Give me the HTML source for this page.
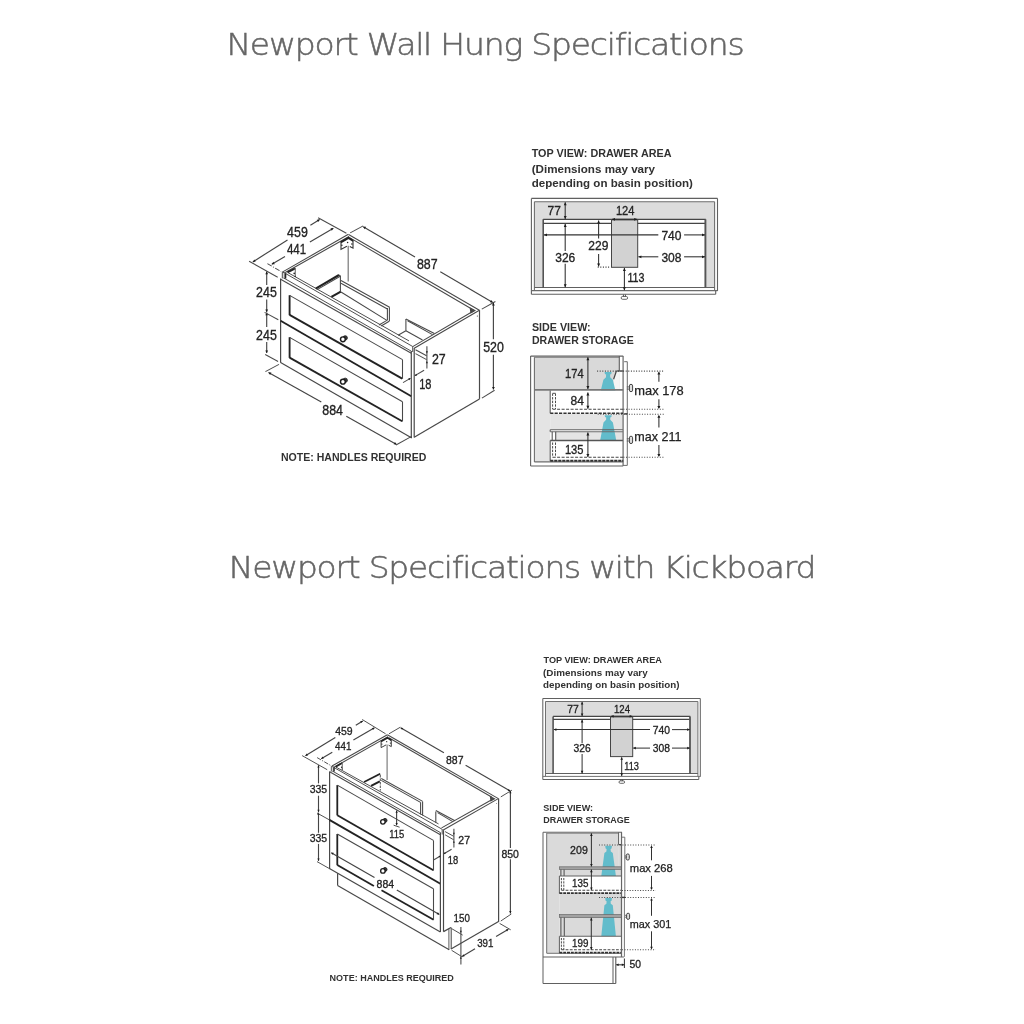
<!DOCTYPE html>
<html lang="en"><head><meta charset="utf-8"><title>Newport Specifications</title>
<style>
html,body{margin:0;padding:0;background:#fff;}
body{width:1024px;height:1024px;overflow:hidden;}
svg{display:block;font-family:"Liberation Sans","DejaVu Sans",sans-serif;}
svg line,svg polyline,svg polygon{stroke-linecap:butt;stroke-linejoin:miter;}
.h{font-family:"DejaVu Sans Light","DejaVu Sans","Liberation Sans",sans-serif;font-weight:200;font-size:29.8px;fill:#666;stroke:#666;stroke-width:0.5px;letter-spacing:-1.1px;}
</style></head><body>
<svg width="1024" height="1024" viewBox="0 0 1024 1024">
<defs><filter id="soft" x="0" y="0" width="1024" height="1024" filterUnits="userSpaceOnUse"><feGaussianBlur stdDeviation="0.42"/></filter></defs>
<rect x="0" y="0" width="1024" height="1024" fill="#ffffff"/>
<g filter="url(#soft)">
<text class="h" x="226.4" y="54.8" textLength="517" lengthAdjust="spacingAndGlyphs">Newport Wall Hung Specifications</text>
<text class="h" x="228.8" y="578.0" textLength="586.4" lengthAdjust="spacingAndGlyphs">Newport Specifications with Kickboard</text>
<line x1="280.6" y1="278.6" x2="280.6" y2="362.8" stroke="#484848" stroke-width="1.2" />
<line x1="280.6" y1="279.2" x2="411.3" y2="353.3" stroke="#484848" stroke-width="1.08" />
<line x1="282.7" y1="277.4" x2="411.3" y2="351.2" stroke="#484848" stroke-width="0.96" />
<line x1="285.7" y1="273.6" x2="412.7" y2="346.5" stroke="#484848" stroke-width="0.96" />
<line x1="287.9" y1="272.6" x2="409.0" y2="340.9" stroke="#484848" stroke-width="0.96" />
<line x1="280.6" y1="362.5" x2="411.8" y2="438.0" stroke="#484848" stroke-width="1.2" />
<line x1="280.6" y1="320.8" x2="411.3" y2="396.2" stroke="#222" stroke-width="1.86" />
<line x1="411.3" y1="351.0" x2="411.3" y2="438.0" stroke="#484848" stroke-width="1.2" />
<line x1="414.2" y1="348.0" x2="414.2" y2="437.4" stroke="#484848" stroke-width="1.2" />
<line x1="412.7" y1="346.4" x2="412.7" y2="352.0" stroke="#484848" stroke-width="0.96" />
<line x1="414.2" y1="348.3" x2="479.4" y2="310.2" stroke="#484848" stroke-width="1.08" />
<line x1="412.7" y1="346.6" x2="473.9" y2="310.8" stroke="#484848" stroke-width="1.08" />
<line x1="479.5" y1="310.2" x2="479.5" y2="398.9" stroke="#484848" stroke-width="1.2" />
<line x1="414.2" y1="437.3" x2="479.5" y2="398.9" stroke="#484848" stroke-width="1.2" />
<line x1="348.6" y1="234.5" x2="479.4" y2="310.2" stroke="#484848" stroke-width="1.08" />
<line x1="350.0" y1="237.9" x2="473.9" y2="310.2" stroke="#484848" stroke-width="1.08" />
<line x1="282.3" y1="272.1" x2="348.4" y2="234.3" stroke="#484848" stroke-width="1.08" />
<line x1="284.8" y1="272.8" x2="349.0" y2="236.5" stroke="#484848" stroke-width="1.08" />
<rect x="282.3" y="272.6" width="3.1" height="5.0" fill="#d8d8d8" stroke="none" stroke-width="0" />
<polyline points="282.3,278.4 282.3,272.3 285.4,272.9" stroke="#484848" stroke-width="0.96" fill="none" />
<line x1="285.4" y1="273.2" x2="285.4" y2="278.6" stroke="#222" stroke-width="1.8" />
<line x1="348.2" y1="245.8" x2="348.2" y2="281.6" stroke="#777" stroke-width="1.2" />
<polyline points="340.7,242.3 348.6,237.8 353.3,241.0" fill="none" stroke="#222" stroke-width="2.10" stroke-linejoin="miter"/>
<polyline points="341.0,242.1 341.0,249.4 346.9,246.2" fill="none" stroke="#333" stroke-width="1.10"/>
<polyline points="353.0,241.0 353.0,248.2 349.8,246.5" fill="none" stroke="#333" stroke-width="1.10"/>
<circle cx="347.6" cy="242.4" r="0.75" fill="#222"/>
<circle cx="351.9" cy="244.1" r="0.75" fill="#222"/>
<circle cx="341.9" cy="245.3" r="0.75" fill="#222"/>
<line x1="287.4" y1="272.3" x2="295.3" y2="268.3" stroke="#222" stroke-width="1.92" />
<line x1="295.3" y1="268.0" x2="295.3" y2="276.6" stroke="#777" stroke-width="1.2" />
<circle cx="294.2" cy="273.4" r="0.8" fill="#222"/>
<circle cx="295.2" cy="276.4" r="0.7" fill="#222"/>
<polygon points="470.5,308.5 471.0,312.5 474.5,310.5" stroke="#484848" stroke-width="1.44" fill="#444" />
<circle cx="477.3" cy="316.0" r="0.5" fill="#222"/>
<line x1="289.6" y1="315.2" x2="289.6" y2="295.2" stroke="#222" stroke-width="1.86" />
<line x1="289.6" y1="295.4" x2="402.5" y2="359.6" stroke="#484848" stroke-width="1.08" />
<line x1="289.6" y1="314.9" x2="402.2" y2="378.6" stroke="#222" stroke-width="1.86" />
<line x1="402.5" y1="359.6" x2="402.5" y2="378.8" stroke="#484848" stroke-width="1.08" />
<line x1="289.6" y1="357.9" x2="289.6" y2="337.2" stroke="#222" stroke-width="1.86" />
<line x1="289.6" y1="337.4" x2="402.5" y2="401.8" stroke="#484848" stroke-width="1.08" />
<line x1="289.6" y1="357.6" x2="402.2" y2="421.3" stroke="#222" stroke-width="1.86" />
<line x1="402.5" y1="401.8" x2="402.5" y2="421.5" stroke="#484848" stroke-width="1.08" />
<circle cx="345.2" cy="337.9" r="2.16" fill="#3a3a3a" stroke="#222" stroke-width="0.9"/>
<circle cx="342.9" cy="339.3" r="2.40" fill="#fff" stroke="#1c1c1c" stroke-width="1.44"/>
<circle cx="345.2" cy="380.3" r="2.16" fill="#3a3a3a" stroke="#222" stroke-width="0.9"/>
<circle cx="342.9" cy="381.7" r="2.40" fill="#fff" stroke="#1c1c1c" stroke-width="1.44"/>
<line x1="315.7" y1="288.7" x2="339.0" y2="275.0" stroke="#222" stroke-width="2.04" />
<line x1="317.2" y1="289.6" x2="340.2" y2="276.2" stroke="#484848" stroke-width="1.08" />
<line x1="340.4" y1="276.0" x2="340.4" y2="291.6" stroke="#484848" stroke-width="1.08" />
<line x1="339.0" y1="275.0" x2="340.6" y2="276.2" stroke="#484848" stroke-width="1.08" />
<line x1="331.4" y1="296.9" x2="340.8" y2="291.6" stroke="#222" stroke-width="2.16" />
<line x1="341.0" y1="280.5" x2="389.6" y2="307.2" stroke="#484848" stroke-width="1.08" />
<line x1="341.0" y1="283.3" x2="387.4" y2="309.0" stroke="#484848" stroke-width="1.08" />
<line x1="387.4" y1="308.0" x2="387.4" y2="320.6" stroke="#484848" stroke-width="1.08" />
<line x1="389.4" y1="307.2" x2="389.4" y2="321.2" stroke="#484848" stroke-width="1.08" />
<line x1="341.0" y1="292.0" x2="386.9" y2="320.4" stroke="#484848" stroke-width="1.08" />
<line x1="386.9" y1="320.4" x2="379.0" y2="325.0" stroke="#484848" stroke-width="1.08" />
<line x1="389.2" y1="321.3" x2="381.2" y2="326.0" stroke="#484848" stroke-width="1.08" />
<line x1="405.9" y1="319.0" x2="405.9" y2="330.8" stroke="#484848" stroke-width="1.08" />
<line x1="405.9" y1="319.0" x2="434.4" y2="333.6" stroke="#484848" stroke-width="1.08" />
<line x1="407.6" y1="320.8" x2="432.5" y2="334.6" stroke="#484848" stroke-width="1.08" />
<line x1="405.9" y1="330.8" x2="422.5" y2="340.0" stroke="#484848" stroke-width="1.08" />
<line x1="398.1" y1="335.2" x2="405.9" y2="330.8" stroke="#484848" stroke-width="1.08" />
<line x1="252.8" y1="261.9" x2="287.5" y2="239.9" stroke="#444" stroke-width="1.14" />
<line x1="310.4" y1="225.3" x2="319.7" y2="219.4" stroke="#444" stroke-width="1.14" />
<polygon points="252.8,261.9 254.3,259.4 255.7,261.6" fill="#1c1c1c"/>
<polygon points="319.7,219.4 318.2,221.9 316.8,219.7" fill="#1c1c1c"/>
<line x1="249.1" y1="261.2" x2="277.7" y2="277.3" stroke="#4a4a4a" stroke-width="1.02" />
<line x1="318.1" y1="217.8" x2="346.4" y2="233.3" stroke="#4a4a4a" stroke-width="1.02" />
<text x="287.1" y="236.7" font-size="13.9" fill="#222" stroke="#222" stroke-width="0.32" textLength="20.7" lengthAdjust="spacingAndGlyphs">459</text>
<line x1="271.8" y1="264.3" x2="285.0" y2="256.6" stroke="#444" stroke-width="1.14" />
<line x1="309.9" y1="242.0" x2="333.4" y2="228.2" stroke="#444" stroke-width="1.14" />
<polygon points="271.8,264.3 273.4,261.8 274.7,264.2" fill="#1c1c1c"/>
<polygon points="333.4,228.2 331.8,230.7 330.5,228.3" fill="#1c1c1c"/>
<line x1="267.4" y1="263.6" x2="281.1" y2="271.6" stroke="#4a4a4a" stroke-width="1.02" stroke-dasharray="5 1.5 1 1.5"/>
<text x="286.9" y="254.2" font-size="13.9" fill="#222" stroke="#222" stroke-width="0.32" textLength="19.2" lengthAdjust="spacingAndGlyphs">441</text>
<line x1="266.7" y1="271.6" x2="266.7" y2="285.0" stroke="#444" stroke-width="1.14" />
<line x1="266.7" y1="299.5" x2="266.7" y2="312.0" stroke="#444" stroke-width="1.14" />
<polygon points="266.7,271.6 268.1,274.2 265.3,274.2" fill="#1c1c1c"/>
<polygon points="266.7,312.0 265.3,309.4 268.1,309.4" fill="#1c1c1c"/>
<line x1="266.7" y1="312.6" x2="266.7" y2="327.0" stroke="#444" stroke-width="1.14" />
<line x1="266.7" y1="342.0" x2="266.7" y2="353.0" stroke="#444" stroke-width="1.14" />
<polygon points="266.7,312.6 268.1,315.2 265.3,315.2" fill="#1c1c1c"/>
<polygon points="266.7,353.0 265.3,350.4 268.1,350.4" fill="#1c1c1c"/>
<line x1="264.6" y1="312.4" x2="278.3" y2="319.8" stroke="#4a4a4a" stroke-width="1.02" />
<line x1="265.2" y1="354.5" x2="278.1" y2="361.5" stroke="#4a4a4a" stroke-width="1.02" />
<text x="256.1" y="297.0" font-size="13.9" fill="#222" stroke="#222" stroke-width="0.32" textLength="20.7" lengthAdjust="spacingAndGlyphs">245</text>
<text x="256.1" y="339.6" font-size="13.9" fill="#222" stroke="#222" stroke-width="0.32" textLength="20.7" lengthAdjust="spacingAndGlyphs">245</text>
<line x1="363.2" y1="226.7" x2="415.0" y2="257.0" stroke="#444" stroke-width="1.14" />
<line x1="440.3" y1="271.7" x2="492.8" y2="302.4" stroke="#444" stroke-width="1.14" />
<polygon points="363.2,226.7 366.1,226.8 364.8,229.2" fill="#1c1c1c"/>
<polygon points="492.8,302.4 489.9,302.3 491.2,299.9" fill="#1c1c1c"/>
<line x1="350.2" y1="232.9" x2="363.2" y2="225.9" stroke="#4a4a4a" stroke-width="1.02" />
<line x1="481.8" y1="309.1" x2="495.4" y2="301.5" stroke="#4a4a4a" stroke-width="1.02" />
<text x="416.9" y="269.2" font-size="13.9" fill="#222" stroke="#222" stroke-width="0.32" textLength="20.7" lengthAdjust="spacingAndGlyphs">887</text>
<line x1="493.4" y1="302.8" x2="493.4" y2="339.2" stroke="#444" stroke-width="1.14" />
<line x1="493.4" y1="354.8" x2="493.4" y2="389.5" stroke="#444" stroke-width="1.14" />
<polygon points="493.4,302.8 494.8,305.4 492.0,305.4" fill="#1c1c1c"/>
<polygon points="493.4,389.5 492.0,386.9 494.8,386.9" fill="#1c1c1c"/>
<line x1="481.9" y1="398.1" x2="494.6" y2="390.2" stroke="#4a4a4a" stroke-width="1.02" />
<text x="483.2" y="351.9" font-size="13.9" fill="#222" stroke="#222" stroke-width="0.32" textLength="20.7" lengthAdjust="spacingAndGlyphs">520</text>
<line x1="426.9" y1="346.3" x2="426.9" y2="368.4" stroke="#4a4a4a" stroke-width="1.08" />
<polygon points="426.9,353.6 425.9,351.2 427.9,351.2" fill="#1c1c1c"/>
<polygon points="426.9,360.9 427.9,363.3 425.9,363.3" fill="#1c1c1c"/>
<line x1="415.5" y1="349.7" x2="426.6" y2="355.8" stroke="#4a4a4a" stroke-width="1.02" />
<line x1="415.5" y1="353.6" x2="426.6" y2="359.6" stroke="#4a4a4a" stroke-width="1.02" />
<text x="431.9" y="363.6" font-size="13.9" fill="#222" stroke="#222" stroke-width="0.32" textLength="13.8" lengthAdjust="spacingAndGlyphs">27</text>
<line x1="403.0" y1="382.6" x2="410.3" y2="378.4" stroke="#4a4a4a" stroke-width="1.08" />
<line x1="414.9" y1="375.6" x2="424.1" y2="370.3" stroke="#4a4a4a" stroke-width="1.08" />
<polygon points="410.8,378.1 409.2,380.2 408.2,378.4" fill="#1c1c1c"/>
<polygon points="414.6,375.8 416.2,373.7 417.2,375.5" fill="#1c1c1c"/>
<text x="419.2" y="388.5" font-size="13.9" fill="#222" stroke="#222" stroke-width="0.32" textLength="12.3" lengthAdjust="spacingAndGlyphs">18</text>
<line x1="268.5" y1="372.5" x2="321.3" y2="402.1" stroke="#444" stroke-width="1.14" />
<line x1="346.3" y1="416.2" x2="396.6" y2="444.4" stroke="#444" stroke-width="1.14" />
<polygon points="268.5,372.5 271.4,372.6 270.1,374.9" fill="#1c1c1c"/>
<polygon points="396.6,444.4 393.7,444.3 395.0,442.0" fill="#1c1c1c"/>
<line x1="265.4" y1="371.6" x2="279.0" y2="364.4" stroke="#4a4a4a" stroke-width="1.02" />
<line x1="396.0" y1="445.0" x2="411.6" y2="436.4" stroke="#4a4a4a" stroke-width="1.02" />
<text x="322.3" y="414.6" font-size="13.9" fill="#222" stroke="#222" stroke-width="0.32" textLength="20.7" lengthAdjust="spacingAndGlyphs">884</text>
<text x="280.9" y="461.4" font-size="11.4" font-weight="bold" fill="#333" textLength="145.5" lengthAdjust="spacingAndGlyphs">NOTE: HANDLES REQUIRED</text>
<text x="531.7" y="156.7" font-size="11.5" font-weight="bold" fill="#303030" textLength="139.8" lengthAdjust="spacingAndGlyphs">TOP VIEW: DRAWER AREA</text>
<text x="531.7" y="173.4" font-size="11.5" font-weight="bold" fill="#303030" textLength="123.4" lengthAdjust="spacingAndGlyphs">(Dimensions may vary</text>
<text x="531.7" y="186.6" font-size="11.5" font-weight="bold" fill="#303030" textLength="161.2" lengthAdjust="spacingAndGlyphs">depending on basin position)</text>
<rect x="534.4" y="201.7" width="180.2" height="85.8" fill="#dcdcdc" stroke="none" stroke-width="0" />
<rect x="543.2" y="219.3" width="162.6" height="68.2" fill="#fff" stroke="none" stroke-width="0" />
<line x1="531.4" y1="198.4" x2="717.5" y2="198.4" stroke="#606060" stroke-width="1.1" />
<line x1="534.4" y1="201.7" x2="714.6" y2="201.7" stroke="#6c6c6c" stroke-width="1.06" />
<line x1="531.4" y1="198.4" x2="531.4" y2="294.3" stroke="#606060" stroke-width="1.1" />
<line x1="534.4" y1="201.7" x2="534.4" y2="290.5" stroke="#6c6c6c" stroke-width="1.06" />
<line x1="717.5" y1="198.4" x2="717.5" y2="291.0" stroke="#606060" stroke-width="1.1" />
<line x1="714.6" y1="201.7" x2="714.6" y2="290.5" stroke="#6c6c6c" stroke-width="1.06" />
<line x1="534.4" y1="287.5" x2="714.6" y2="287.5" stroke="#606060" stroke-width="1.1" />
<line x1="531.4" y1="290.6" x2="717.5" y2="290.6" stroke="#6c6c6c" stroke-width="1.06" />
<line x1="531.4" y1="294.3" x2="715.7" y2="294.3" stroke="#606060" stroke-width="1.1" />
<line x1="715.7" y1="290.6" x2="715.7" y2="294.3" stroke="#606060" stroke-width="1.1" />
<line x1="543.2" y1="219.3" x2="705.8" y2="219.3" stroke="#444" stroke-width="1.2" />
<line x1="543.2" y1="223.4" x2="705.8" y2="223.4" stroke="#444" stroke-width="1.2" />
<line x1="543.2" y1="219.3" x2="543.2" y2="287.5" stroke="#444" stroke-width="1.44" />
<line x1="705.4" y1="219.3" x2="705.4" y2="287.5" stroke="#555" stroke-width="1.92" />
<rect x="611.5" y="219.9" width="26.2" height="47.4" fill="#d2d2d2" stroke="#444" stroke-width="1.0" />
<line x1="565.2" y1="202.3" x2="565.2" y2="218.9" stroke="#333" stroke-width="1.08" />
<polygon points="565.2,202.3 563.8,205.3 566.7,205.3" fill="#1c1c1c"/>
<polygon points="565.2,218.9 563.8,215.9 566.7,215.9" fill="#1c1c1c"/>
<text x="547.6" y="215.2" font-size="13.21" font-weight="normal" fill="#222" stroke="#222" stroke-width="0.32" textLength="13.4" lengthAdjust="spacingAndGlyphs" >77</text>
<line x1="612.0" y1="219.3" x2="637.2" y2="219.3" stroke="#333" stroke-width="1.08" />
<polygon points="612.0,219.3 615.0,217.9 615.0,220.8" fill="#1c1c1c"/>
<polygon points="637.2,219.3 634.2,217.9 634.2,220.8" fill="#1c1c1c"/>
<text x="615.9" y="215.2" font-size="13.21" font-weight="normal" fill="#222" stroke="#222" stroke-width="0.32" textLength="18.6" lengthAdjust="spacingAndGlyphs" >124</text>
<line x1="544.0" y1="234.9" x2="658.3" y2="234.9" stroke="#333" stroke-width="1.08" />
<line x1="684.1" y1="234.9" x2="705.0" y2="234.9" stroke="#333" stroke-width="1.08" />
<polygon points="544.0,234.9 547.0,233.5 547.0,236.3" fill="#1c1c1c"/>
<polygon points="705.0,234.9 702.0,233.5 702.0,236.3" fill="#1c1c1c"/>
<text x="661.4" y="239.7" font-size="13.21" font-weight="normal" fill="#222" stroke="#222" stroke-width="0.32" textLength="20.1" lengthAdjust="spacingAndGlyphs" >740</text>
<line x1="565.2" y1="224.0" x2="565.2" y2="250.9" stroke="#333" stroke-width="1.08" />
<line x1="565.2" y1="263.8" x2="565.2" y2="287.3" stroke="#333" stroke-width="1.08" />
<polygon points="565.2,224.0 563.8,227.0 566.7,227.0" fill="#1c1c1c"/>
<polygon points="565.2,287.3 563.8,284.3 566.7,284.3" fill="#1c1c1c"/>
<text x="555.2" y="261.5" font-size="13.21" font-weight="normal" fill="#222" stroke="#222" stroke-width="0.32" textLength="20.1" lengthAdjust="spacingAndGlyphs" >326</text>
<line x1="598.6" y1="220.5" x2="598.6" y2="238.5" stroke="#333" stroke-width="1.08" />
<line x1="598.6" y1="254.0" x2="598.6" y2="266.6" stroke="#333" stroke-width="1.08" />
<polygon points="598.6,220.5 597.1,223.5 600.1,223.5" fill="#1c1c1c"/>
<polygon points="598.6,266.6 597.1,263.6 600.1,263.6" fill="#1c1c1c"/>
<text x="588.3" y="250.4" font-size="13.21" font-weight="normal" fill="#222" stroke="#222" stroke-width="0.32" textLength="20.1" lengthAdjust="spacingAndGlyphs" >229</text>
<line x1="597.7" y1="267.1" x2="610.0" y2="267.1" stroke="#333" stroke-width="1.08" stroke-dasharray="1 1.6"/>
<line x1="638.4" y1="256.8" x2="658.3" y2="256.8" stroke="#333" stroke-width="1.08" />
<line x1="684.1" y1="256.8" x2="705.0" y2="256.8" stroke="#333" stroke-width="1.08" />
<polygon points="638.4,256.8 641.4,255.4 641.4,258.2" fill="#1c1c1c"/>
<polygon points="705.0,256.8 702.0,255.4 702.0,258.2" fill="#1c1c1c"/>
<text x="661.4" y="261.5" font-size="13.21" font-weight="normal" fill="#222" stroke="#222" stroke-width="0.32" textLength="20.1" lengthAdjust="spacingAndGlyphs" >308</text>
<line x1="624.4" y1="267.9" x2="624.4" y2="290.2" stroke="#333" stroke-width="1.08" />
<polygon points="624.4,267.9 622.9,270.9 625.9,270.9" fill="#1c1c1c"/>
<polygon points="624.4,290.2 622.9,287.2 625.9,287.2" fill="#1c1c1c"/>
<text x="627.4" y="282.0" font-size="13.21" font-weight="normal" fill="#222" stroke="#222" stroke-width="0.32" textLength="17.1" lengthAdjust="spacingAndGlyphs" >113</text>
<line x1="623.4" y1="294.6" x2="623.4" y2="296.8" stroke="#444" stroke-width="0.96" />
<line x1="625.4" y1="294.6" x2="625.4" y2="296.8" stroke="#444" stroke-width="0.96" />
<rect x="621.2" y="296.5" width="6.4" height="2.8" rx="1.3" fill="#fff" stroke="#444" stroke-width="0.8"/>
<text x="531.9" y="330.5" font-size="11.5" font-weight="bold" fill="#303030" textLength="58.8" lengthAdjust="spacingAndGlyphs">SIDE VIEW:</text>
<text x="531.9" y="343.8" font-size="11.5" font-weight="bold" fill="#303030" textLength="101.8" lengthAdjust="spacingAndGlyphs">DRAWER STORAGE</text>
<rect x="534.4" y="357.3" width="85.0" height="32.0" fill="#d9d9d9" stroke="none" stroke-width="0" />
<polygon points="616.4,371.1 619.3,371.1 619.3,389.3 612.6,389.3 613.6,379.3" stroke="none" stroke-width="0.0" fill="#f4f4f4" />
<rect x="534.4" y="390.3" width="15.8" height="71.6" fill="#e4e4e4" stroke="none" stroke-width="0" />
<rect x="550.2" y="413.9" width="72.7" height="15.8" fill="#e4e4e4" stroke="none" stroke-width="0" />
<rect x="555.7" y="431.7" width="67.2" height="8.8" fill="#e4e4e4" stroke="none" stroke-width="0" />
<polygon points="604.6,372.0 611.6,372.0 611.3,373.9 610.1,374.4 610.2,377.2 612.8,379.8 615.4,390.5 600.8,390.5 603.4,379.8 606.0,377.2 606.1,374.4 604.9,373.9" stroke="none" stroke-width="0.0" fill="#62bccb" />
<polygon points="604.7,415.2 611.7,415.2 611.4,417.1 610.2,417.6 610.3,419.8 612.9,422.4 616.2,440.3 600.2,440.3 603.5,422.4 606.1,419.8 606.2,417.6 605.0,417.1" stroke="none" stroke-width="0.0" fill="#62bccb" />
<line x1="530.6" y1="356.1" x2="623.2" y2="356.1" stroke="#606060" stroke-width="1.1" />
<line x1="534.4" y1="357.3" x2="619.3" y2="357.3" stroke="#777" stroke-width="0.96" />
<line x1="530.6" y1="356.1" x2="530.6" y2="466.0" stroke="#606060" stroke-width="1.1" />
<line x1="534.4" y1="357.3" x2="534.4" y2="461.9" stroke="#6c6c6c" stroke-width="1.06" />
<line x1="530.6" y1="466.0" x2="623.2" y2="466.0" stroke="#606060" stroke-width="1.1" />
<line x1="534.4" y1="461.9" x2="623.2" y2="461.9" stroke="#6c6c6c" stroke-width="1.06" />
<line x1="623.1" y1="356.1" x2="623.1" y2="466.0" stroke="#666" stroke-width="1.2" />
<line x1="619.3" y1="356.1" x2="619.3" y2="370.8" stroke="#606060" stroke-width="1.1" />
<line x1="616.4" y1="371.0" x2="623.2" y2="371.0" stroke="#444" stroke-width="1.2" />
<line x1="616.4" y1="371.0" x2="613.6" y2="379.3" stroke="#444" stroke-width="1.2" />
<polyline points="624.2,361.7 627.3,361.7 627.3,413.9" stroke="#666" stroke-width="0.96" fill="none" />
<line x1="624.2" y1="413.9" x2="627.6" y2="413.9" stroke="#333" stroke-width="1.44" />
<polyline points="627.3,414.4 627.3,465.4 623.2,465.4" stroke="#666" stroke-width="0.96" fill="none" />
<line x1="534.4" y1="389.8" x2="623.2" y2="389.8" stroke="#777" stroke-width="1.68" />
<line x1="550.2" y1="390.5" x2="550.2" y2="413.3" stroke="#606060" stroke-width="1.1" />
<line x1="550.2" y1="413.3" x2="623.0" y2="413.3" stroke="#333" stroke-width="1.56" stroke-dasharray="3.2 1.2"/>
<line x1="552.6" y1="393.5" x2="552.6" y2="409.0" stroke="#444" stroke-width="0.96" stroke-dasharray="2.4 1.2"/>
<line x1="555.5" y1="393.5" x2="555.5" y2="409.0" stroke="#444" stroke-width="0.96" stroke-dasharray="2.4 1.2"/>
<line x1="552.6" y1="393.3" x2="555.5" y2="393.3" stroke="#444" stroke-width="0.96" />
<line x1="552.6" y1="409.2" x2="623.2" y2="409.2" stroke="#444" stroke-width="1.08" stroke-dasharray="3 1.5"/>
<line x1="550.2" y1="429.7" x2="622.9" y2="429.7" stroke="#606060" stroke-width="1.1" />
<line x1="550.2" y1="431.7" x2="622.9" y2="431.7" stroke="#6c6c6c" stroke-width="1.06" />
<line x1="550.2" y1="429.7" x2="550.2" y2="431.7" stroke="#606060" stroke-width="1.1" />
<line x1="552.2" y1="431.7" x2="552.2" y2="440.5" stroke="#555" stroke-width="1.08" />
<line x1="555.7" y1="431.7" x2="555.7" y2="440.5" stroke="#555" stroke-width="1.08" />
<line x1="550.2" y1="440.5" x2="622.9" y2="440.5" stroke="#555" stroke-width="1.32" />
<line x1="550.2" y1="440.5" x2="550.2" y2="460.9" stroke="#606060" stroke-width="1.1" />
<line x1="550.2" y1="460.7" x2="623.2" y2="460.7" stroke="#333" stroke-width="1.92" stroke-dasharray="3.2 0.8"/>
<line x1="552.6" y1="442.5" x2="552.6" y2="457.2" stroke="#444" stroke-width="0.96" stroke-dasharray="2.4 1.2"/>
<line x1="555.5" y1="442.5" x2="555.5" y2="457.2" stroke="#444" stroke-width="0.96" stroke-dasharray="2.4 1.2"/>
<line x1="552.6" y1="457.2" x2="623.2" y2="457.2" stroke="#444" stroke-width="1.08" stroke-dasharray="3 1.5"/>
<line x1="587.9" y1="357.3" x2="587.9" y2="389.0" stroke="#333" stroke-width="1.08" />
<polygon points="587.9,357.3 586.4,360.3 589.4,360.3" fill="#1c1c1c"/>
<polygon points="587.9,389.0 586.4,386.0 589.4,386.0" fill="#1c1c1c"/>
<text x="565.0" y="377.5" font-size="13.21" font-weight="normal" fill="#222" stroke="#222" stroke-width="0.32" textLength="18.6" lengthAdjust="spacingAndGlyphs" >174</text>
<line x1="587.9" y1="392.6" x2="587.9" y2="408.8" stroke="#333" stroke-width="1.08" />
<polygon points="587.9,392.6 586.4,395.6 589.4,395.6" fill="#1c1c1c"/>
<polygon points="587.9,408.8 586.4,405.8 589.4,405.8" fill="#1c1c1c"/>
<text x="570.5" y="405.1" font-size="13.21" font-weight="normal" fill="#222" stroke="#222" stroke-width="0.32" textLength="13.4" lengthAdjust="spacingAndGlyphs" >84</text>
<line x1="587.9" y1="432.4" x2="587.9" y2="457.0" stroke="#333" stroke-width="1.08" />
<polygon points="587.9,432.4 586.4,435.4 589.4,435.4" fill="#1c1c1c"/>
<polygon points="587.9,457.0 586.4,454.0 589.4,454.0" fill="#1c1c1c"/>
<text x="564.9" y="453.7" font-size="13.21" font-weight="normal" fill="#222" stroke="#222" stroke-width="0.32" textLength="18.6" lengthAdjust="spacingAndGlyphs" >135</text>
<line x1="626.8" y1="386.9" x2="629.4" y2="386.9" stroke="#555" stroke-width="0.84" />
<line x1="626.8" y1="389.1" x2="629.4" y2="389.1" stroke="#555" stroke-width="0.84" />
<rect x="629.4" y="384.3" width="3.2" height="7.4" rx="1.6" fill="#ddd" stroke="#444" stroke-width="1.0"/>
<line x1="626.8" y1="438.8" x2="629.4" y2="438.8" stroke="#555" stroke-width="0.84" />
<line x1="626.8" y1="441.0" x2="629.4" y2="441.0" stroke="#555" stroke-width="0.84" />
<rect x="629.4" y="436.2" width="3.2" height="7.4" rx="1.6" fill="#ddd" stroke="#444" stroke-width="1.0"/>
<line x1="597.1" y1="371.1" x2="663.8" y2="371.1" stroke="#444" stroke-width="1.08" stroke-dasharray="1 1.6"/>
<line x1="623.4" y1="409.2" x2="663.8" y2="409.2" stroke="#444" stroke-width="1.08" stroke-dasharray="1 1.6"/>
<line x1="597.7" y1="414.2" x2="663.8" y2="414.2" stroke="#444" stroke-width="1.08" stroke-dasharray="1 1.6"/>
<line x1="623.4" y1="457.2" x2="663.8" y2="457.2" stroke="#444" stroke-width="1.08" stroke-dasharray="1 1.6"/>
<line x1="658.9" y1="372.5" x2="658.9" y2="381.8" stroke="#333" stroke-width="1.08" />
<line x1="658.9" y1="399.2" x2="658.9" y2="408.0" stroke="#333" stroke-width="1.08" />
<polygon points="658.9,371.5 657.4,374.5 660.4,374.5" fill="#1c1c1c"/>
<polygon points="658.9,408.9 657.4,405.9 660.4,405.9" fill="#1c1c1c"/>
<line x1="658.9" y1="416.0" x2="658.9" y2="427.5" stroke="#333" stroke-width="1.08" />
<line x1="658.9" y1="444.9" x2="658.9" y2="456.0" stroke="#333" stroke-width="1.08" />
<polygon points="658.9,414.8 657.4,417.8 660.4,417.8" fill="#1c1c1c"/>
<polygon points="658.9,456.9 657.4,453.9 660.4,453.9" fill="#1c1c1c"/>
<text x="634.3" y="394.8" font-size="12.7" fill="#222" stroke="#222" stroke-width="0.25" textLength="49.4" lengthAdjust="spacingAndGlyphs">max 178</text>
<text x="634.3" y="440.5" font-size="12.7" fill="#222" stroke="#222" stroke-width="0.25" textLength="47.1" lengthAdjust="spacingAndGlyphs">max 211</text>
<line x1="329.6" y1="771.4" x2="329.6" y2="868.9" stroke="#484848" stroke-width="1.2" />
<line x1="329.6" y1="771.7" x2="440.4" y2="834.7" stroke="#484848" stroke-width="1.08" />
<line x1="331.8" y1="770.7" x2="440.4" y2="832.6" stroke="#484848" stroke-width="0.96" />
<line x1="334.3" y1="767.7" x2="442.2" y2="829.3" stroke="#484848" stroke-width="0.96" />
<line x1="335.8" y1="767.0" x2="438.5" y2="823.9" stroke="#484848" stroke-width="0.96" />
<line x1="329.4" y1="868.6" x2="440.4" y2="932.1" stroke="#484848" stroke-width="1.2" />
<line x1="329.4" y1="819.9" x2="440.4" y2="883.8" stroke="#222" stroke-width="1.8" />
<line x1="440.4" y1="832.5" x2="440.4" y2="932.1" stroke="#484848" stroke-width="1.2" />
<line x1="443.5" y1="830.2" x2="443.5" y2="931.6" stroke="#484848" stroke-width="1.2" />
<line x1="442.2" y1="829.3" x2="442.2" y2="834.5" stroke="#484848" stroke-width="0.96" />
<line x1="442.8" y1="830.3" x2="498.3" y2="798.6" stroke="#484848" stroke-width="1.08" />
<line x1="441.6" y1="827.9" x2="492.6" y2="799.2" stroke="#484848" stroke-width="1.08" />
<line x1="498.6" y1="798.6" x2="498.6" y2="921.4" stroke="#484848" stroke-width="1.2" />
<line x1="443.5" y1="931.6" x2="451.0" y2="927.5" stroke="#484848" stroke-width="1.2" />
<line x1="451.2" y1="927.5" x2="451.2" y2="949.1" stroke="#484848" stroke-width="1.02" />
<line x1="448.9" y1="928.6" x2="448.9" y2="949.6" stroke="#484848" stroke-width="0.9" />
<line x1="451.0" y1="949.1" x2="499.0" y2="921.2" stroke="#484848" stroke-width="1.2" />
<line x1="337.6" y1="873.2" x2="337.6" y2="885.5" stroke="#484848" stroke-width="1.2" />
<line x1="337.6" y1="885.5" x2="449.2" y2="949.7" stroke="#484848" stroke-width="1.2" />
<line x1="387.4" y1="734.8" x2="498.4" y2="798.6" stroke="#484848" stroke-width="1.08" />
<line x1="388.8" y1="737.8" x2="492.0" y2="797.2" stroke="#484848" stroke-width="1.08" />
<line x1="332.0" y1="766.0" x2="387.4" y2="734.8" stroke="#484848" stroke-width="1.08" />
<line x1="334.0" y1="767.3" x2="388.0" y2="736.6" stroke="#484848" stroke-width="1.08" />
<rect x="331.3" y="766.6" width="2.6" height="4.2" fill="#d8d8d8" stroke="none" stroke-width="0" />
<polyline points="331.3,771.6 331.3,766.4 333.9,767.0" stroke="#484848" stroke-width="0.9" fill="none" />
<line x1="334.0" y1="767.2" x2="334.0" y2="771.6" stroke="#222" stroke-width="1.56" />
<line x1="387.1" y1="744.6" x2="387.1" y2="779.9" stroke="#777" stroke-width="1.14" />
<polyline points="380.9,741.6 387.6,737.8 391.6,740.5" fill="none" stroke="#222" stroke-width="1.78" stroke-linejoin="miter"/>
<polyline points="381.1,741.4 381.1,747.6 386.1,744.9" fill="none" stroke="#333" stroke-width="0.94"/>
<polyline points="391.3,740.5 391.3,746.6 388.6,745.2" fill="none" stroke="#333" stroke-width="0.94"/>
<circle cx="386.7" cy="741.7" r="0.6375" fill="#222"/>
<circle cx="390.4" cy="743.1" r="0.6375" fill="#222"/>
<circle cx="381.9" cy="744.1" r="0.6375" fill="#222"/>
<line x1="335.7" y1="766.8" x2="342.2" y2="763.0" stroke="#222" stroke-width="1.68" />
<line x1="342.3" y1="762.8" x2="342.3" y2="769.4" stroke="#777" stroke-width="1.08" />
<circle cx="341.6" cy="767.3" r="0.7" fill="#222"/>
<circle cx="342.2" cy="769.2" r="0.6" fill="#222"/>
<polygon points="490.6,797.0 491.0,800.6 494.2,798.8" stroke="#484848" stroke-width="1.32" fill="#444" />
<circle cx="496.6" cy="803.4" r="0.45" fill="#222"/>
<line x1="337.3" y1="785.1" x2="337.3" y2="815.4" stroke="#222" stroke-width="1.8" />
<line x1="337.3" y1="785.1" x2="433.4" y2="840.4" stroke="#484848" stroke-width="1.08" />
<line x1="337.3" y1="815.2" x2="433.4" y2="870.3" stroke="#222" stroke-width="1.8" />
<line x1="433.5" y1="840.4" x2="433.5" y2="870.6" stroke="#484848" stroke-width="1.08" />
<line x1="337.3" y1="834.0" x2="337.3" y2="865.2" stroke="#222" stroke-width="1.8" />
<line x1="337.3" y1="834.0" x2="433.4" y2="888.7" stroke="#484848" stroke-width="1.08" />
<line x1="337.3" y1="865.0" x2="373.9" y2="886.0" stroke="#222" stroke-width="1.8" />
<line x1="381.5" y1="890.3" x2="433.6" y2="919.8" stroke="#222" stroke-width="1.8" />
<line x1="433.5" y1="888.7" x2="433.5" y2="920.0" stroke="#484848" stroke-width="1.08" />
<circle cx="385.0" cy="820.4" r="2.02" fill="#3a3a3a" stroke="#222" stroke-width="0.9"/>
<circle cx="382.9" cy="821.8" r="2.25" fill="#fff" stroke="#1c1c1c" stroke-width="1.35"/>
<circle cx="385.0" cy="869.5" r="2.02" fill="#3a3a3a" stroke="#222" stroke-width="0.9"/>
<circle cx="382.9" cy="870.9" r="2.25" fill="#fff" stroke="#1c1c1c" stroke-width="1.35"/>
<line x1="364.1" y1="782.0" x2="380.2" y2="773.7" stroke="#222" stroke-width="1.8" />
<line x1="371.1" y1="785.8" x2="379.8" y2="781.4" stroke="#222" stroke-width="2.04" />
<line x1="380.3" y1="775.0" x2="380.3" y2="790.6" stroke="#484848" stroke-width="0.96" stroke-dasharray="2.5 1"/>
<line x1="381.3" y1="778.5" x2="422.7" y2="801.4" stroke="#484848" stroke-width="1.08" />
<line x1="381.3" y1="780.4" x2="420.5" y2="802.4" stroke="#484848" stroke-width="1.08" />
<line x1="420.6" y1="802.2" x2="420.6" y2="814.6" stroke="#484848" stroke-width="1.08" />
<line x1="422.6" y1="801.4" x2="422.6" y2="815.4" stroke="#484848" stroke-width="1.08" />
<line x1="435.8" y1="811.4" x2="435.8" y2="822.8" stroke="#484848" stroke-width="1.08" />
<line x1="435.8" y1="810.6" x2="455.0" y2="820.7" stroke="#484848" stroke-width="1.08" />
<line x1="437.6" y1="812.6" x2="452.8" y2="821.6" stroke="#484848" stroke-width="1.08" />
<line x1="305.4" y1="755.8" x2="335.3" y2="737.6" stroke="#444" stroke-width="1.14" />
<line x1="355.8" y1="725.2" x2="362.8" y2="720.9" stroke="#444" stroke-width="1.14" />
<polygon points="305.4,755.8 306.8,753.6 308.0,755.6" fill="#1c1c1c"/>
<polygon points="362.8,720.9 361.4,723.1 360.2,721.1" fill="#1c1c1c"/>
<line x1="302.1" y1="755.6" x2="327.2" y2="769.7" stroke="#4a4a4a" stroke-width="0.96" />
<line x1="362.2" y1="719.5" x2="385.6" y2="733.8" stroke="#4a4a4a" stroke-width="0.96" />
<text x="335.2" y="735.4" font-size="11.7" fill="#222" stroke="#222" stroke-width="0.32" textLength="17.5" lengthAdjust="spacingAndGlyphs">459</text>
<line x1="321.2" y1="758.8" x2="332.3" y2="752.3" stroke="#444" stroke-width="1.14" />
<line x1="353.4" y1="740.0" x2="374.5" y2="727.7" stroke="#444" stroke-width="1.14" />
<polygon points="321.2,758.8 322.6,756.6 323.8,758.6" fill="#1c1c1c"/>
<polygon points="374.5,727.7 373.1,729.9 371.9,727.9" fill="#1c1c1c"/>
<line x1="317.1" y1="757.6" x2="331.2" y2="765.8" stroke="#4a4a4a" stroke-width="0.96" stroke-dasharray="4.5 1.4 1 1.4"/>
<text x="335.1" y="750.1" font-size="11.7" fill="#222" stroke="#222" stroke-width="0.32" textLength="16.3" lengthAdjust="spacingAndGlyphs">441</text>
<line x1="318.5" y1="765.2" x2="318.5" y2="783.4" stroke="#444" stroke-width="1.14" />
<line x1="318.5" y1="795.7" x2="318.5" y2="812.0" stroke="#444" stroke-width="1.14" />
<polygon points="318.5,765.2 319.6,767.5 317.4,767.5" fill="#1c1c1c"/>
<polygon points="318.5,812.0 317.4,809.7 319.6,809.7" fill="#1c1c1c"/>
<line x1="318.5" y1="812.6" x2="318.5" y2="832.8" stroke="#444" stroke-width="1.14" />
<line x1="318.5" y1="843.9" x2="318.5" y2="860.9" stroke="#444" stroke-width="1.14" />
<polygon points="318.5,812.6 319.6,814.9 317.4,814.9" fill="#1c1c1c"/>
<polygon points="318.5,860.9 317.4,858.6 319.6,858.6" fill="#1c1c1c"/>
<line x1="317.0" y1="813.0" x2="329.4" y2="819.9" stroke="#4a4a4a" stroke-width="0.96" />
<line x1="317.0" y1="861.6" x2="329.4" y2="868.6" stroke="#4a4a4a" stroke-width="0.96" />
<text x="309.7" y="793.4" font-size="11.7" fill="#222" stroke="#222" stroke-width="0.32" textLength="17.5" lengthAdjust="spacingAndGlyphs">335</text>
<text x="309.7" y="842.3" font-size="11.7" fill="#222" stroke="#222" stroke-width="0.32" textLength="17.5" lengthAdjust="spacingAndGlyphs">335</text>
<line x1="400.6" y1="727.7" x2="443.9" y2="752.7" stroke="#444" stroke-width="1.14" />
<line x1="465.6" y1="765.2" x2="510.2" y2="791.0" stroke="#444" stroke-width="1.14" />
<polygon points="400.6,727.7 403.2,727.9 402.0,729.8" fill="#1c1c1c"/>
<polygon points="510.2,791.0 507.6,790.8 508.8,788.9" fill="#1c1c1c"/>
<line x1="389.0" y1="733.8" x2="400.3" y2="727.2" stroke="#4a4a4a" stroke-width="0.96" />
<line x1="500.8" y1="796.9" x2="511.9" y2="790.2" stroke="#4a4a4a" stroke-width="0.96" />
<text x="446.0" y="763.6" font-size="11.7" fill="#222" stroke="#222" stroke-width="0.32" textLength="17.5" lengthAdjust="spacingAndGlyphs">887</text>
<line x1="510.4" y1="791.0" x2="510.4" y2="848.0" stroke="#444" stroke-width="1.14" />
<line x1="510.4" y1="859.2" x2="510.4" y2="913.4" stroke="#444" stroke-width="1.14" />
<polygon points="510.4,791.0 511.5,793.3 509.2,793.3" fill="#1c1c1c"/>
<polygon points="510.4,913.4 509.2,911.1 511.5,911.1" fill="#1c1c1c"/>
<line x1="500.8" y1="921.0" x2="511.3" y2="914.0" stroke="#4a4a4a" stroke-width="0.96" />
<text x="501.4" y="857.8" font-size="11.7" fill="#222" stroke="#222" stroke-width="0.32" textLength="17.5" lengthAdjust="spacingAndGlyphs">850</text>
<line x1="453.9" y1="828.7" x2="453.9" y2="847.5" stroke="#4a4a4a" stroke-width="1.08" />
<polygon points="453.9,834.9 453.0,832.8 454.8,832.8" fill="#1c1c1c"/>
<polygon points="453.9,840.7 454.8,842.8 453.0,842.8" fill="#1c1c1c"/>
<line x1="445.1" y1="831.6" x2="453.7" y2="836.3" stroke="#4a4a4a" stroke-width="0.96" />
<line x1="445.1" y1="834.8" x2="453.7" y2="839.8" stroke="#4a4a4a" stroke-width="0.96" />
<text x="458.3" y="844.0" font-size="11.7" fill="#222" stroke="#222" stroke-width="0.32" textLength="11.7" lengthAdjust="spacingAndGlyphs">27</text>
<line x1="434.0" y1="859.8" x2="440.4" y2="856.0" stroke="#4a4a4a" stroke-width="1.08" />
<line x1="443.9" y1="853.7" x2="451.6" y2="849.2" stroke="#4a4a4a" stroke-width="1.08" />
<polygon points="440.8,855.8 439.4,857.6 438.5,856.1" fill="#1c1c1c"/>
<polygon points="443.6,853.9 445.0,852.1 445.9,853.6" fill="#1c1c1c"/>
<text x="447.7" y="864.3" font-size="11.7" fill="#222" stroke="#222" stroke-width="0.32" textLength="10.4" lengthAdjust="spacingAndGlyphs">18</text>
<line x1="396.6" y1="810.5" x2="396.6" y2="825.2" stroke="#444" stroke-width="1.14" />
<polygon points="396.6,810.5 397.8,812.8 395.5,812.8" fill="#1c1c1c"/>
<polygon points="396.6,825.2 395.5,822.9 397.8,822.9" fill="#1c1c1c"/>
<line x1="393.6" y1="825.2" x2="399.6" y2="827.2" stroke="#4a4a4a" stroke-width="0.96" />
<text x="389.3" y="838.2" font-size="11.7" fill="#222" stroke="#222" stroke-width="0.32" textLength="15.0" lengthAdjust="spacingAndGlyphs">115</text>
<line x1="331.2" y1="852.7" x2="374.5" y2="877.4" stroke="#444" stroke-width="1.14" />
<line x1="396.8" y1="890.1" x2="439.3" y2="914.4" stroke="#444" stroke-width="1.14" />
<polygon points="331.2,852.7 333.8,852.8 332.6,854.8" fill="#1c1c1c"/>
<polygon points="439.3,914.4 436.7,914.3 437.9,912.3" fill="#1c1c1c"/>
<text x="376.6" y="887.8" font-size="11.7" fill="#222" stroke="#222" stroke-width="0.32" textLength="17.5" lengthAdjust="spacingAndGlyphs">884</text>
<line x1="460.9" y1="926.9" x2="460.9" y2="964.4" stroke="#4a4a4a" stroke-width="1.08" />
<polygon points="460.9,933.0 459.9,930.8 461.8,930.8" fill="#1c1c1c"/>
<polygon points="460.9,956.5 461.8,958.7 459.9,958.7" fill="#1c1c1c"/>
<line x1="451.6" y1="928.6" x2="462.7" y2="935.1" stroke="#4a4a4a" stroke-width="0.96" />
<line x1="451.6" y1="950.3" x2="462.1" y2="956.8" stroke="#4a4a4a" stroke-width="0.96" />
<text x="453.6" y="922.1" font-size="11.7" fill="#222" stroke="#222" stroke-width="0.32" textLength="16.3" lengthAdjust="spacingAndGlyphs">150</text>
<line x1="462.1" y1="956.4" x2="475.0" y2="948.8" stroke="#444" stroke-width="1.14" />
<line x1="496.1" y1="936.4" x2="508.4" y2="929.2" stroke="#444" stroke-width="1.14" />
<polygon points="462.1,956.4 463.5,954.2 464.7,956.2" fill="#1c1c1c"/>
<polygon points="508.4,929.2 507.0,931.4 505.8,929.4" fill="#1c1c1c"/>
<line x1="499.6" y1="923.4" x2="510.7" y2="929.8" stroke="#4a4a4a" stroke-width="0.96" />
<text x="477.2" y="947.1" font-size="11.7" fill="#222" stroke="#222" stroke-width="0.32" textLength="16.3" lengthAdjust="spacingAndGlyphs">391</text>
<text x="329.6" y="980.5" font-size="9.8" font-weight="bold" fill="#333" textLength="124.3" lengthAdjust="spacingAndGlyphs">NOTE: HANDLES REQUIRED</text>
<text x="543.5" y="662.5" font-size="9.6" font-weight="bold" fill="#303030" textLength="118.4" lengthAdjust="spacingAndGlyphs">TOP VIEW: DRAWER AREA</text>
<text x="543.1" y="676.3" font-size="9.6" font-weight="bold" fill="#303030" textLength="104.6" lengthAdjust="spacingAndGlyphs">(Dimensions may vary</text>
<text x="543.1" y="688.0" font-size="9.6" font-weight="bold" fill="#303030" textLength="136.4" lengthAdjust="spacingAndGlyphs">depending on basin position)</text>
<rect x="545.5" y="701.5" width="152.4" height="72.0" fill="#dcdcdc" stroke="none" stroke-width="0" />
<rect x="553.1" y="716.4" width="137.2" height="57.1" fill="#fff" stroke="none" stroke-width="0" />
<line x1="542.8" y1="698.6" x2="700.3" y2="698.6" stroke="#606060" stroke-width="1.02" />
<line x1="545.5" y1="701.5" x2="697.9" y2="701.5" stroke="#6c6c6c" stroke-width="0.96" />
<line x1="542.8" y1="698.6" x2="542.8" y2="779.6" stroke="#606060" stroke-width="1.02" />
<line x1="545.5" y1="701.5" x2="545.5" y2="776.4" stroke="#6c6c6c" stroke-width="0.96" />
<line x1="700.3" y1="698.6" x2="700.3" y2="776.8" stroke="#606060" stroke-width="1.02" />
<line x1="697.9" y1="701.5" x2="697.9" y2="776.4" stroke="#6c6c6c" stroke-width="0.96" />
<line x1="545.5" y1="773.5" x2="697.9" y2="773.5" stroke="#606060" stroke-width="1.02" />
<line x1="542.8" y1="776.4" x2="700.3" y2="776.4" stroke="#6c6c6c" stroke-width="0.96" />
<line x1="542.8" y1="779.6" x2="698.8" y2="779.6" stroke="#606060" stroke-width="1.02" />
<line x1="698.8" y1="776.4" x2="698.8" y2="779.6" stroke="#606060" stroke-width="1.02" />
<line x1="553.1" y1="716.4" x2="690.3" y2="716.4" stroke="#444" stroke-width="1.2" />
<line x1="553.1" y1="719.3" x2="690.3" y2="719.3" stroke="#444" stroke-width="1.2" />
<line x1="553.1" y1="716.4" x2="553.1" y2="773.5" stroke="#444" stroke-width="1.44" />
<line x1="690.0" y1="716.4" x2="690.0" y2="773.5" stroke="#555" stroke-width="1.8" />
<rect x="610.5" y="716.9" width="22.2" height="39.7" fill="#d2d2d2" stroke="#444" stroke-width="1.0" />
<line x1="582.1" y1="701.9" x2="582.1" y2="716.1" stroke="#333" stroke-width="1.02" />
<polygon points="582.1,701.9 580.8,704.5 583.4,704.5" fill="#1c1c1c"/>
<polygon points="582.1,716.1 580.8,713.5 583.4,713.5" fill="#1c1c1c"/>
<text x="567.2" y="712.7" font-size="11.34" font-weight="normal" fill="#222" stroke="#222" stroke-width="0.32" textLength="11.5" lengthAdjust="spacingAndGlyphs" >77</text>
<line x1="611.0" y1="716.3" x2="632.3" y2="716.3" stroke="#333" stroke-width="1.02" />
<polygon points="611.0,716.3 613.6,715.0 613.6,717.6" fill="#1c1c1c"/>
<polygon points="632.3,716.3 629.7,715.0 629.7,717.6" fill="#1c1c1c"/>
<text x="614.0" y="712.9" font-size="11.34" font-weight="normal" fill="#222" stroke="#222" stroke-width="0.32" textLength="16.0" lengthAdjust="spacingAndGlyphs" >124</text>
<line x1="553.8" y1="729.6" x2="650.0" y2="729.6" stroke="#333" stroke-width="1.02" />
<line x1="672.0" y1="729.6" x2="689.8" y2="729.6" stroke="#333" stroke-width="1.02" />
<polygon points="553.8,729.6 556.4,728.3 556.4,730.9" fill="#1c1c1c"/>
<polygon points="689.8,729.6 687.2,728.3 687.2,730.9" fill="#1c1c1c"/>
<text x="652.7" y="733.5" font-size="11.34" font-weight="normal" fill="#222" stroke="#222" stroke-width="0.32" textLength="17.2" lengthAdjust="spacingAndGlyphs" >740</text>
<line x1="582.1" y1="719.8" x2="582.1" y2="743.0" stroke="#333" stroke-width="1.02" />
<line x1="582.1" y1="754.0" x2="582.1" y2="773.4" stroke="#333" stroke-width="1.02" />
<polygon points="582.1,719.8 580.8,722.4 583.4,722.4" fill="#1c1c1c"/>
<polygon points="582.1,773.4 580.8,770.8 583.4,770.8" fill="#1c1c1c"/>
<text x="573.5" y="752.0" font-size="11.34" font-weight="normal" fill="#222" stroke="#222" stroke-width="0.32" textLength="17.2" lengthAdjust="spacingAndGlyphs" >326</text>
<line x1="633.2" y1="748.1" x2="650.0" y2="748.1" stroke="#333" stroke-width="1.02" />
<line x1="672.0" y1="748.1" x2="689.8" y2="748.1" stroke="#333" stroke-width="1.02" />
<polygon points="633.2,748.1 635.8,746.8 635.8,749.4" fill="#1c1c1c"/>
<polygon points="689.8,748.1 687.2,746.8 687.2,749.4" fill="#1c1c1c"/>
<text x="652.7" y="752.0" font-size="11.34" font-weight="normal" fill="#222" stroke="#222" stroke-width="0.32" textLength="17.2" lengthAdjust="spacingAndGlyphs" >308</text>
<line x1="621.7" y1="757.2" x2="621.7" y2="775.9" stroke="#333" stroke-width="1.02" />
<polygon points="621.7,757.2 620.4,759.8 623.0,759.8" fill="#1c1c1c"/>
<polygon points="621.7,775.9 620.4,773.3 623.0,773.3" fill="#1c1c1c"/>
<text x="624.3" y="769.6" font-size="11.34" font-weight="normal" fill="#222" stroke="#222" stroke-width="0.32" textLength="14.7" lengthAdjust="spacingAndGlyphs" >113</text>
<line x1="620.9" y1="779.6" x2="620.9" y2="781.2" stroke="#444" stroke-width="0.84" />
<line x1="622.6" y1="779.6" x2="622.6" y2="781.2" stroke="#444" stroke-width="0.84" />
<rect x="619.0" y="780.9" width="5.6" height="2.4" rx="1.2" fill="#fff" stroke="#444" stroke-width="0.8"/>
<text x="543.3" y="811.1" font-size="9.6" font-weight="bold" fill="#303030" textLength="49.8" lengthAdjust="spacingAndGlyphs">SIDE VIEW:</text>
<text x="543.3" y="822.5" font-size="9.6" font-weight="bold" fill="#303030" textLength="86.4" lengthAdjust="spacingAndGlyphs">DRAWER STORAGE</text>
<rect x="546.7" y="833.1" width="72.1" height="33.7" fill="#dadada" stroke="none" stroke-width="0" />
<rect x="546.7" y="866.0" width="12.7" height="87.2" fill="#dadada" stroke="none" stroke-width="0" />
<rect x="559.4" y="869.2" width="62.0" height="6.9" fill="#dadada" stroke="none" stroke-width="0" />
<rect x="559.4" y="893.6" width="62.0" height="42.6" fill="#dadada" stroke="none" stroke-width="0" />
<rect x="618.6" y="844.6" width="3.0" height="22.2" fill="#dadada" stroke="none" stroke-width="0" />
<polygon points="605.2,845.8 612.0,845.8 611.6,848.4 610.6,849.0 610.8,851.4 612.8,853.0 615.9,876.1 601.3,876.1 604.4,853.0 606.4,851.4 606.6,849.0 605.6,848.4" stroke="none" stroke-width="0.0" fill="#62bccb" />
<polygon points="605.2,898.1 612.0,898.1 611.6,900.7 610.6,901.3 610.8,903.7 612.8,905.3 615.9,936.2 601.3,936.2 604.4,905.3 606.4,903.7 606.6,901.3 605.6,900.7" stroke="none" stroke-width="0.0" fill="#62bccb" />
<rect x="559.4" y="866.8" width="62.2" height="2.6" fill="#a2a2a2" stroke="#666" stroke-width="0.7" />
<rect x="559.4" y="914.6" width="62.2" height="2.8" fill="#a2a2a2" stroke="#666" stroke-width="0.7" />
<line x1="543.0" y1="832.3" x2="621.9" y2="832.3" stroke="#606060" stroke-width="1.02" />
<line x1="546.7" y1="833.4" x2="618.8" y2="833.4" stroke="#888" stroke-width="0.84" />
<line x1="543.0" y1="832.3" x2="543.0" y2="983.6" stroke="#606060" stroke-width="1.02" />
<line x1="546.7" y1="833.1" x2="546.7" y2="953.2" stroke="#6c6c6c" stroke-width="0.96" />
<line x1="621.5" y1="832.3" x2="621.5" y2="956.8" stroke="#666" stroke-width="1.14" />
<line x1="618.6" y1="832.3" x2="618.6" y2="844.6" stroke="#606060" stroke-width="1.02" />
<line x1="618.6" y1="844.6" x2="621.7" y2="844.6" stroke="#444" stroke-width="1.2" />
<line x1="546.7" y1="953.3" x2="621.7" y2="953.3" stroke="#6c6c6c" stroke-width="0.96" />
<line x1="543.0" y1="956.9" x2="623.9" y2="956.9" stroke="#606060" stroke-width="1.02" />
<polyline points="622.0,837.2 624.8,837.2 624.8,897.2" stroke="#666" stroke-width="0.9" fill="none" />
<line x1="621.7" y1="897.4" x2="625.0" y2="897.4" stroke="#333" stroke-width="1.44" />
<polyline points="624.4,897.8 624.4,956.8" stroke="#666" stroke-width="0.9" fill="none" />
<line x1="543.0" y1="983.6" x2="615.8" y2="983.6" stroke="#606060" stroke-width="1.02" />
<line x1="613.0" y1="957.0" x2="613.0" y2="983.6" stroke="#666" stroke-width="1.08" />
<line x1="615.8" y1="957.0" x2="615.8" y2="983.6" stroke="#555" stroke-width="1.08" />
<line x1="560.9" y1="869.4" x2="560.9" y2="876.1" stroke="#555" stroke-width="1.08" />
<line x1="564.1" y1="869.4" x2="564.1" y2="876.1" stroke="#555" stroke-width="1.08" />
<rect x="559.4" y="876.1" width="61.8" height="17.3" fill="#fff" stroke="none" stroke-width="0" />
<line x1="559.4" y1="876.1" x2="621.6" y2="876.1" stroke="#606060" stroke-width="1.02" />
<line x1="559.4" y1="876.1" x2="559.4" y2="893.4" stroke="#606060" stroke-width="1.02" />
<line x1="559.4" y1="893.2" x2="621.7" y2="893.2" stroke="#333" stroke-width="1.8" stroke-dasharray="3 0.8"/>
<line x1="561.4" y1="878.0" x2="561.4" y2="890.2" stroke="#444" stroke-width="0.96" stroke-dasharray="2.2 1.1"/>
<line x1="563.8" y1="878.0" x2="563.8" y2="890.2" stroke="#444" stroke-width="0.96" stroke-dasharray="2.2 1.1"/>
<line x1="561.4" y1="890.3" x2="621.7" y2="890.3" stroke="#444" stroke-width="1.08" stroke-dasharray="2.8 1.4"/>
<line x1="560.9" y1="917.4" x2="560.9" y2="936.2" stroke="#555" stroke-width="1.08" />
<line x1="564.3" y1="917.4" x2="564.3" y2="936.2" stroke="#555" stroke-width="1.08" />
<rect x="559.4" y="936.2" width="61.8" height="16.8" fill="#fff" stroke="none" stroke-width="0" />
<line x1="559.4" y1="936.2" x2="621.6" y2="936.2" stroke="#606060" stroke-width="1.02" />
<line x1="559.4" y1="936.2" x2="559.4" y2="953.0" stroke="#606060" stroke-width="1.02" />
<line x1="559.4" y1="952.7" x2="621.7" y2="952.7" stroke="#333" stroke-width="1.8" stroke-dasharray="3 0.8"/>
<line x1="561.4" y1="938.0" x2="561.4" y2="949.8" stroke="#444" stroke-width="0.96" stroke-dasharray="2.2 1.1"/>
<line x1="563.8" y1="938.0" x2="563.8" y2="949.8" stroke="#444" stroke-width="0.96" stroke-dasharray="2.2 1.1"/>
<line x1="561.4" y1="949.8" x2="621.7" y2="949.8" stroke="#444" stroke-width="1.08" stroke-dasharray="2.8 1.4"/>
<line x1="621.5" y1="832.3" x2="621.5" y2="956.8" stroke="#666" stroke-width="1.14" />
<line x1="591.4" y1="833.3" x2="591.4" y2="866.6" stroke="#333" stroke-width="1.02" />
<polygon points="591.4,833.3 590.1,835.9 592.7,835.9" fill="#1c1c1c"/>
<polygon points="591.4,866.6 590.1,864.0 592.7,864.0" fill="#1c1c1c"/>
<text x="570.1" y="853.6" font-size="11.65" font-weight="normal" fill="#222" stroke="#222" stroke-width="0.32" textLength="17.7" lengthAdjust="spacingAndGlyphs" >209</text>
<line x1="591.4" y1="869.6" x2="591.4" y2="890.1" stroke="#333" stroke-width="1.02" />
<polygon points="591.4,869.6 590.1,872.2 592.7,872.2" fill="#1c1c1c"/>
<polygon points="591.4,890.1 590.1,887.5 592.7,887.5" fill="#1c1c1c"/>
<text x="572.0" y="887.3" font-size="11.65" font-weight="normal" fill="#222" stroke="#222" stroke-width="0.32" textLength="16.4" lengthAdjust="spacingAndGlyphs" >135</text>
<line x1="591.3" y1="917.8" x2="591.3" y2="949.7" stroke="#333" stroke-width="1.02" />
<polygon points="591.3,917.8 590.0,920.4 592.6,920.4" fill="#1c1c1c"/>
<polygon points="591.3,949.7 590.0,947.1 592.6,947.1" fill="#1c1c1c"/>
<text x="572.1" y="946.9" font-size="11.65" font-weight="normal" fill="#222" stroke="#222" stroke-width="0.32" textLength="16.4" lengthAdjust="spacingAndGlyphs" >199</text>
<line x1="624.7" y1="856.0" x2="626.3" y2="856.0" stroke="#555" stroke-width="0.84" />
<line x1="624.7" y1="857.9" x2="626.3" y2="857.9" stroke="#555" stroke-width="0.84" />
<rect x="626.3" y="853.9" width="3.0" height="6.2" rx="1.5" fill="#ddd" stroke="#444" stroke-width="1.0"/>
<line x1="625.0" y1="915.3" x2="626.6" y2="915.3" stroke="#555" stroke-width="0.84" />
<line x1="625.0" y1="917.2" x2="626.6" y2="917.2" stroke="#555" stroke-width="0.84" />
<rect x="626.6" y="913.2" width="3.0" height="6.2" rx="1.5" fill="#ddd" stroke="#444" stroke-width="1.0"/>
<line x1="599.0" y1="845.1" x2="655.8" y2="845.1" stroke="#444" stroke-width="1.02" stroke-dasharray="1 1.6"/>
<line x1="621.9" y1="890.4" x2="655.8" y2="890.4" stroke="#444" stroke-width="1.02" stroke-dasharray="1 1.6"/>
<line x1="599.0" y1="897.5" x2="655.8" y2="897.5" stroke="#444" stroke-width="1.02" stroke-dasharray="1 1.6"/>
<line x1="621.9" y1="949.8" x2="655.8" y2="949.8" stroke="#444" stroke-width="1.02" stroke-dasharray="1 1.6"/>
<line x1="651.5" y1="846.5" x2="651.5" y2="860.3" stroke="#333" stroke-width="1.02" />
<line x1="651.5" y1="875.9" x2="651.5" y2="888.8" stroke="#333" stroke-width="1.02" />
<polygon points="651.5,845.5 650.2,848.1 652.8,848.1" fill="#1c1c1c"/>
<polygon points="651.5,890.0 650.2,887.4 652.8,887.4" fill="#1c1c1c"/>
<line x1="651.5" y1="899.0" x2="651.5" y2="915.8" stroke="#333" stroke-width="1.02" />
<line x1="651.5" y1="931.3" x2="651.5" y2="948.4" stroke="#333" stroke-width="1.02" />
<polygon points="651.5,898.0 650.2,900.6 652.8,900.6" fill="#1c1c1c"/>
<polygon points="651.5,949.4 650.2,946.8 652.8,946.8" fill="#1c1c1c"/>
<text x="629.8" y="872.0" font-size="10.9" fill="#222" stroke="#222" stroke-width="0.25" textLength="43.0" lengthAdjust="spacingAndGlyphs">max 268</text>
<text x="629.8" y="927.9" font-size="10.9" fill="#222" stroke="#222" stroke-width="0.25" textLength="41.5" lengthAdjust="spacingAndGlyphs">max 301</text>
<line x1="616.3" y1="964.8" x2="624.4" y2="964.8" stroke="#333" stroke-width="1.02" />
<polygon points="616.0,964.8 618.6,963.5 618.6,966.1" fill="#1c1c1c"/>
<polygon points="624.4,964.8 621.8,963.5 621.8,966.1" fill="#1c1c1c"/>
<line x1="624.4" y1="958.6" x2="624.4" y2="968.0" stroke="#333" stroke-width="1.02" />
<text x="629.4" y="968.4" font-size="11.34" font-weight="normal" fill="#222" stroke="#222" stroke-width="0.32" textLength="11.5" lengthAdjust="spacingAndGlyphs" >50</text>
</g>
</svg>
</body></html>
